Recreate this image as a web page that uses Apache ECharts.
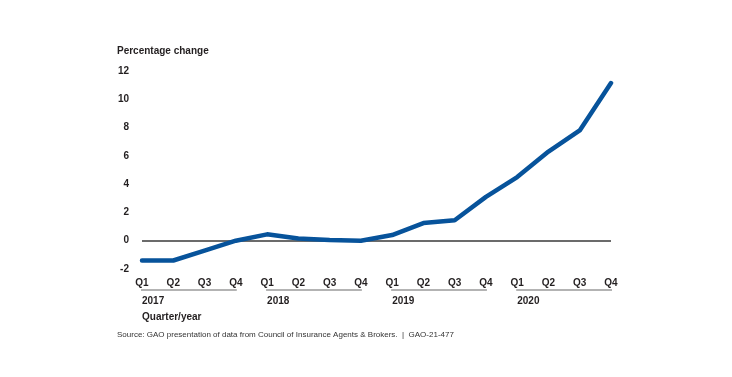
<!DOCTYPE html>
<html>
<head>
<meta charset="utf-8">
<script src="https://cdn.jsdelivr.net/npm/echarts@6/dist/echarts.min.js"></script>
<style>
  html, body { margin: 0; padding: 0; background: #fff; }
  #chart { width: 732px; height: 377px; }
</style>
</head>
<body>
<div id="chart"></div>
<script>
// data (percentage change in premiums)
const years = ['2017', '2018', '2019', '2020']
const quarters = ['Q1', 'Q2', 'Q3', 'Q4']
const values = [-1.4, -1.4, -0.7, 0.0, 0.45, 0.15, 0.05, 0.0,
                0.4, 1.25, 1.45, 3.1, 4.5, 6.3, 7.8, 11.15]
const yTicks = { min: -2, max: 12, step: 2 }

const categories = []
years.forEach(y => quarters.forEach(q => categories.push(y + ' ' + q)))

const FONT = '"Liberation Sans", Arial, sans-serif'
const INK = '#231f20'

const chart = echarts.init(document.getElementById('chart'))

chart.setOption({
  animation: false,
  backgroundColor: '#fff',
  textStyle: { fontFamily: FONT },
  title: {
    text: 'Percentage change',
    left: 117, top: 46, padding: 0,
    textStyle: { fontSize: 10, fontWeight: 'bold', color: INK, fontFamily: FONT }
  },
  grid: { left: 142, right: 121, top: 71, bottom: 108 },
  xAxis: {
    type: 'category',
    data: categories,
    boundaryGap: false,
    axisLine: { show: false, onZero: false },
    axisTick: { show: false },
    axisLabel: {
      margin: 9,
      fontSize: 10, fontWeight: 'bold', color: INK, fontFamily: FONT,
      interval: 0,
      formatter: v => v.split(' ')[1]
    }
  },
  yAxis: {
    type: 'value',
    min: yTicks.min, max: yTicks.max, interval: yTicks.step,
    axisLine: { show: false },
    axisTick: { show: false },
    splitLine: { show: false },
    axisLabel: {
      margin: 13,
      fontSize: 10, fontWeight: 'bold', color: INK, fontFamily: FONT
    }
  },
  series: [{
    type: 'line',
    data: values,
    showSymbol: false,
    symbol: 'none',
    z: 3,
    lineStyle: { color: '#07539b', width: 4.5, join: 'round', cap: 'round' },
    markLine: {
      silent: true,
      symbol: 'none',
      z: 1,
      label: { show: false },
      lineStyle: { color: '#3a3a3a', type: 'solid', width: 1.5 },
      data: [{ yAxis: 0 }]
    }
  }]
})

// year groups under the quarter labels, placed through the axis scale
const graphics = []
const baseY = chart.convertToPixel({ yAxisIndex: 0 }, yTicks.min)
years.forEach((y, i) => {
  const x0 = chart.convertToPixel({ xAxisIndex: 0 }, categories[i * 4])
  const x1 = chart.convertToPixel({ xAxisIndex: 0 }, categories[i * 4 + 3])
  graphics.push({
    type: 'line',
    shape: { x1: x0 - 1, y1: baseY + 21, x2: x1 + 1, y2: baseY + 21 },
    style: { stroke: '#9a9a9a', lineWidth: 1.5 }
  })
  graphics.push({
    type: 'text',
    x: x0, y: baseY + 32,
    style: {
      text: y, fill: INK, font: 'bold 10px ' + FONT,
      textAlign: 'left', textVerticalAlign: 'middle'
    }
  })
})
const x0 = chart.convertToPixel({ xAxisIndex: 0 }, categories[0])
graphics.push({
  type: 'text',
  x: x0, y: baseY + 48,
  style: {
    text: 'Quarter/year', fill: INK, font: 'bold 10px ' + FONT,
    textAlign: 'left', textVerticalAlign: 'middle'
  }
})
graphics.push({
  type: 'text',
  x: 117, y: 334.5,
  style: {
    text: 'Source: GAO presentation of data from Council of Insurance Agents & Brokers.  |  GAO-21-477',
    fill: '#333', font: '8px ' + FONT,
    textAlign: 'left', textVerticalAlign: 'middle'
  }
})
chart.setOption({ graphic: graphics })
</script>
</body>
</html>
